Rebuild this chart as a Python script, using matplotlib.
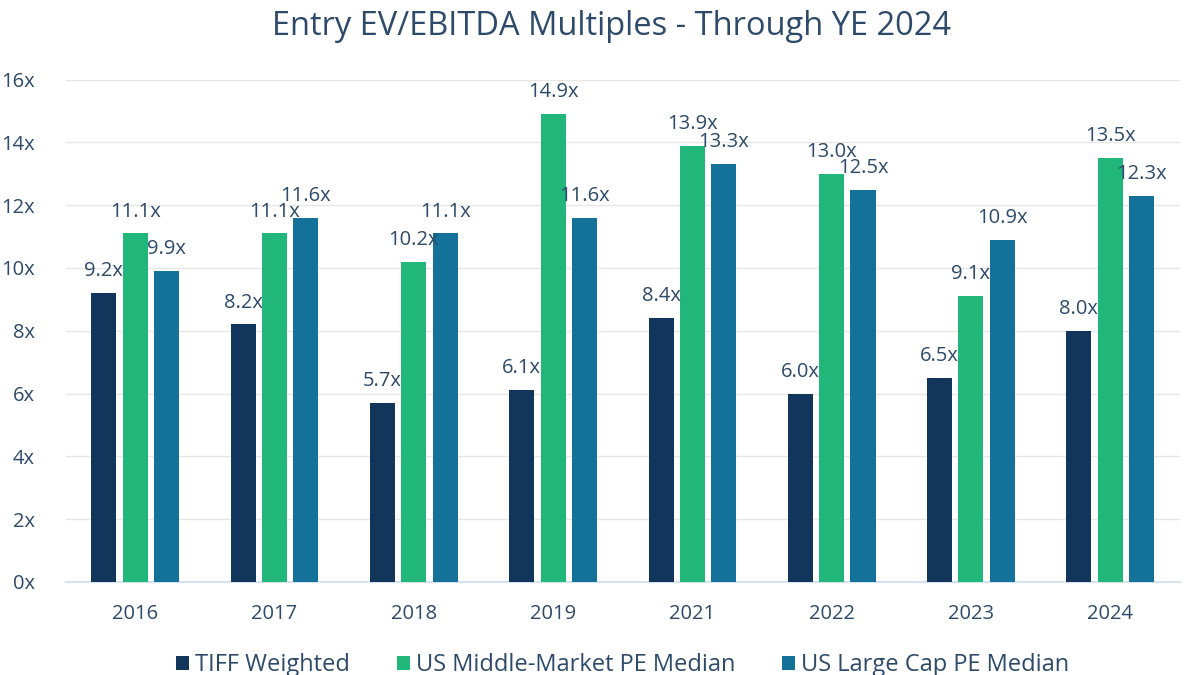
import numpy as np
import matplotlib.pyplot as plt

years = ["2016", "2017", "2018", "2019", "2021", "2022", "2023", "2024"]
tiff_weighted = [9.2, 8.2, 5.7, 6.1, 8.4, 6.0, 6.5, 8.0]
mid_market = [11.1, 11.1, 10.2, 14.9, 13.9, 13.0, 9.1, 13.5]
large_cap = [9.9, 11.6, 11.1, 11.6, 13.3, 12.5, 10.9, 12.3]

series_names = ["TIFF Weighted", "US Middle-Market PE Median", "US Large Cap PE Median"]
colors = ["#12355B", "#21B67A", "#14729A"]
text_color = "#2D4A6A"

plt.rcParams["font.family"] = ["Open Sans", "DejaVu Sans"]

fig = plt.figure(figsize=(11.93, 6.75), dpi=100)
ax = fig.add_axes([0.055, 0.138, 0.934, 0.744])

x = np.arange(len(years))
step = 0.225
width = 0.18
for i, (vals, name) in enumerate(zip([tiff_weighted, mid_market, large_cap], series_names)):
    pos = x + (i - 1) * step
    bars = ax.bar(pos, vals, width=width, color=colors[i], label=name, zorder=3)
    for b, v in zip(bars, vals):
        ax.text(b.get_x() + b.get_width() / 2, v + 0.38, f"{v:.1f}x",
                ha="center", va="bottom", fontsize=14.5, color=text_color, zorder=4)

ax.set_xlim(-0.5, len(years) - 0.5)
ax.set_ylim(0, 16)
ax.set_yticks(range(0, 17, 2))
ax.set_yticklabels([f"{t}x" for t in range(0, 17, 2)])
ax.set_xticks(x)
ax.set_xticklabels(years)
ax.tick_params(axis="both", length=0, labelsize=14.5, colors=text_color)
ax.tick_params(axis="x", pad=16)
ax.tick_params(axis="y", pad=22)
ax.grid(axis="y", color="#E6E6E6", linewidth=1, zorder=0)
for s in ["top", "right", "left"]:
    ax.spines[s].set_visible(False)
ax.spines["bottom"].set_color("#D5E3F0")
ax.spines["bottom"].set_linewidth(1.5)

fig.suptitle("Entry EV/EBITDA Multiples - Through YE 2024", x=0.513, y=0.985,
             fontsize=23.5, color=text_color)

ax.legend(loc="upper center", bbox_to_anchor=(0.5, -0.1), ncol=3, frameon=False,
          fontsize=17, labelcolor=text_color, handlelength=0.55, handleheight=0.55,
          handletextpad=0.25, columnspacing=2.0)

fig.savefig("out.png", dpi=100)
